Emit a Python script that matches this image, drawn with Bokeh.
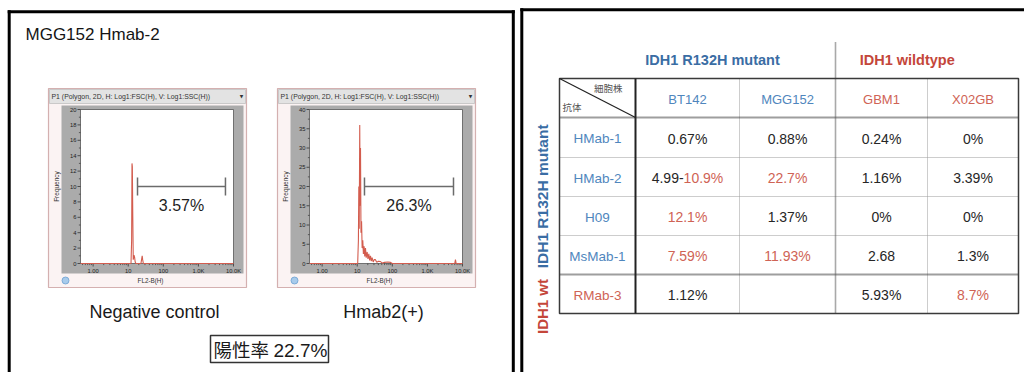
import math
from bokeh.plotting import figure
from bokeh.models import Range1d, LogScale
from bokeh.core.properties import value
from bokeh.embed import file_html
from bokeh.resources import INLINE

# ---------------- data ----------------
panel_title = "MGG152 Hmab-2"
sample_labels = ["Negative control", "Hmab2(+)"]
window_title = "P1 (Polygon, 2D, H: Log1:FSC(H), V: Log1:SSC(H))"
x_axis_label = "FL2-B(H)"
y_axis_label = "Frequency"
x_tick_values = [1, 10, 100, 1000, 10000]
x_tick_labels = ["1.00", "10", "100", "1.0K", "10.0K"]

neg_fl2 = [0.44, 12.0, 12.5, 12.8, 13.1, 13.5, 13.9, 14.6, 15.2, 15.8, 16.5,
           23.0, 24.2, 25.0, 25.8, 27.0, 10000]
neg_freq = [0, 0, 3, 13, 12.6, 6, 0.5, 1.1, 0.8, 0.2, 0,
            0, 0.6, 1.0, 0.5, 0, 0]
neg_y_ticks = [0, 2, 4, 6, 8, 10, 12, 14, 16, 18, 20]
neg_gate = [18.4, 5900]
neg_gate_level = 10
neg_percent = "3.57%"

pos_fl2 = [0.44, 10.3, 10.8, 11.1, 11.4, 11.8, 12.1, 12.4, 12.8, 13.3, 13.8,
           14.4, 15.0, 15.7, 16.4, 17.2, 18.0, 19.2, 20.2, 21.4, 22.6, 23.9,
           25.2, 26.6, 28.5, 30.5, 33.0, 36.0, 40.0, 46.0, 52.0, 60.0, 75.0,
           89.0, 100.0, 6000, 6300, 6600, 10000]
pos_freq = [0, 0, 6, 20, 9, 36, 15, 30, 8, 11, 4,
            6, 2.5, 4.5, 1.8, 4, 1.5, 3, 1.2, 2.5, 0.8, 2,
            0.6, 1.5, 0.4, 1.0, 1.0, 0.3, 0.6, 0.5, 0.1, 0.3, 0.4,
            0.3, 0, 0, 1, 0, 0]
pos_y_ticks = [0, 5, 10, 15, 20, 25, 30, 35, 40]
pos_gate = [16.1, 5540]
pos_gate_level = 20
pos_percent = "26.3%"

positive_rate_label = "陽性率"
positive_rate_value = "22.7%"

group_mutant = "IDH1 R132H mutant"
group_wildtype = "IDH1 wildtype"
group_wt_short = "IDH1 wt"
corner_top = "細胞株"
corner_bottom = "抗体"
cell_lines = ["BT142", "MGG152", "GBM1", "X02GB"]
cell_line_group = ["mut", "mut", "wt", "wt"]
antibodies = ["HMab-1", "HMab-2", "H09", "MsMab-1", "RMab-3"]
antibody_group = ["mut", "mut", "mut", "mut", "wt"]
cell_values = [
    ["0.67%", "0.88%", "0.24%", "0%"],
    ["4.99-10.9%", "22.7%", "1.16%", "3.39%"],
    ["12.1%", "1.37%", "0%", "0%"],
    ["7.59%", "11.93%", "2.68", "1.3%"],
    ["1.12%", "", "5.93%", "8.7%"],
]
# 0 = normal, 1 = highlighted, 2 = upper end of range highlighted
cell_highlight = [
    [0, 0, 0, 0],
    [2, 1, 0, 0],
    [1, 0, 0, 0],
    [1, 1, 0, 0],
    [0, 0, 0, 1],
]

# ---------------- canvas ----------------
X0, Y0, W, H = 0, 0, 1024, 372
p = figure(width=W, height=H, x_range=Range1d(X0, X0 + W), y_range=Range1d(Y0 + H, Y0),
           output_backend="svg", toolbar_location=None, min_border=0, title=None,
           x_axis_location=None, y_axis_location=None, outline_line_color=None,
           background_fill_color="white", border_fill_color="white")
p.xgrid.visible = False
p.ygrid.visible = False

BLUE_H = "#3a6da4"
BLUE = "#4f86bd"
RED_H = "#c4463a"
RED = "#cf6355"
DARK = "#262626"


def T(x, y, s, size, color=DARK, align="left", baseline="middle", font="Liberation Sans",
      style="normal", angle=0.0, xo=0, yo=0, **kw):
    xs = list(x) if isinstance(x, (list, tuple)) else [x]
    ys = list(y) if isinstance(y, (list, tuple)) else [y]
    ss = list(s) if isinstance(s, (list, tuple)) else [s]
    p.text(x=xs, y=ys, text=ss, text_font=value(font), text_font_size=f"{size}px",
           text_color=color, text_align=align, text_baseline=baseline,
           text_font_style=style, angle=angle, x_offset=xo, y_offset=yo, **kw)


# ---------------- panel borders ----------------
p.segment(x0=[8.7, 7.2, 512.8, 521.3, 519.8], y0=[9.8, 11.3, 9.8, 7.8, 9.3],
          x1=[8.7, 514.3, 512.8, 521.3, 1024], y1=[372, 11.3, 372, 372, 9.3],
          line_color="black", line_width=3)

# ---------------- left panel ----------------
T(25, 33.5, panel_title, 17, color="#151515")

L0, L1 = -0.36, 4.0
WIN_W = 198
PLOT_T, PLOT_B = 109, 263
hists = [
    dict(key="neg", wx=48, fl2=neg_fl2, freq=neg_freq, yt=neg_y_ticks, gate=neg_gate,
         level=neg_gate_level, pct=neg_percent, label=sample_labels[0]),
    dict(key="pos", wx=277, fl2=pos_fl2, freq=pos_freq, yt=pos_y_ticks, gate=pos_gate,
         level=pos_gate_level, pct=pos_percent, label=sample_labels[1]),
]
ex_x, ex_xs, ex_y = {}, {}, {}
for h in hists:
    pl, pr = h["wx"] + 32, h["wx"] + 185
    dpp = (L1 - L0) / (pr - pl)
    ymax = h["yt"][-1]
    cpp = ymax / (PLOT_B - PLOT_T)
    ex_x[h["key"]] = Range1d(10 ** (L0 - (pl - X0) * dpp), 10 ** (L1 + (X0 + W - pr) * dpp))
    ex_xs[h["key"]] = LogScale()
    ex_y[h["key"]] = Range1d(-(Y0 + H - PLOT_B) * cpp, ymax + (PLOT_T - Y0) * cpp)
    h.update(pl=pl, pr=pr, dpp=dpp, cpp=cpp)
p.extra_x_ranges = ex_x
p.extra_x_scales = ex_xs
p.extra_y_ranges = ex_y

for h in hists:
    k, wx, pl, pr, dpp, cpp = h["key"], h["wx"], h["pl"], h["pr"], h["dpp"], h["cpp"]
    kw = dict(x_range_name=k, y_range_name=k)
    # window chrome
    p.quad(left=[wx], right=[wx + WIN_W], top=[88], bottom=[287],
           fill_color="#fbf3f3", line_color="#d4b0b0", line_width=1.2)
    p.quad(left=[wx + 1], right=[wx + WIN_W - 1], top=[89], bottom=[103],
           fill_color="#e3e3e3", line_color="#c0c0c0", line_width=0.8)
    T(wx + 3, 96, window_title, 6.9, color="#333333")
    T(wx + WIN_W - 5, 96, "▼", 4.5, color="#333333", align="center", font="DejaVu Sans")
    p.quad(left=[wx + 13], right=[wx + 195], top=[105], bottom=[273],
           fill_color="#ababab", line_color=None)
    p.quad(left=[pl], right=[pr], top=[PLOT_T], bottom=[PLOT_B],
           fill_color="white", line_color="#555555", line_width=0.8)
    T(wx + 8, (PLOT_T + PLOT_B) / 2, y_axis_label, 6.5, color="#333333", align="center",
      angle=math.pi / 2)
    p.scatter(x=[wx + 17], y=[280], size=7, marker="circle", fill_color="#a8cbeb",
              line_color="#6c9fd2", line_width=0.8)
    T(wx + 102, 280, x_axis_label, 6.3, color="#333333", align="center")

    # axes ticks
    xmin = 10 ** L0
    maj = 3.0
    mino = 1.6
    nx = len(x_tick_values)
    p.segment(x0=x_tick_values, y0=[0] * nx, x1=x_tick_values, y1=[-maj * cpp] * nx,
              line_color="#333333", line_width=0.8, **kw)
    minor_x = [m * 10 ** d for d in range(-1, 4) for m in range(2, 10)
               if 10 ** L0 < m * 10 ** d < 10 ** L1]
    p.segment(x0=minor_x, y0=[0] * len(minor_x), x1=minor_x, y1=[-mino * cpp] * len(minor_x),
              line_color="#333333", line_width=0.7, **kw)
    T(x_tick_values, [0] * nx, x_tick_labels, 5.8, color="#222222", align="center",
      yo=7, **kw)
    yt = h["yt"]
    ny = len(yt)
    p.segment(x0=[xmin] * ny, y0=yt, x1=[10 ** (L0 - maj * dpp)] * ny, y1=yt,
              line_color="#333333", line_width=0.8, **kw)
    minor_y = [(yt[i] + yt[i + 1]) / 2 for i in range(ny - 1)]
    p.segment(x0=[xmin] * len(minor_y), y0=minor_y, x1=[10 ** (L0 - mino * dpp)] * len(minor_y),
              y1=minor_y, line_color="#333333", line_width=0.7, **kw)
    T([xmin] * ny, yt, [str(v) for v in yt], 5.8, color="#222222", align="right", xo=-4, **kw)

    # histogram
    p.line(h["fl2"], h["freq"], line_color="#d35c4e", line_width=1.1, **kw)

    # gate
    g0, g1 = h["gate"]
    lv = h["level"]
    cap = 9 * cpp
    p.segment(x0=[g0, g0, g1], y0=[lv, lv - cap, lv - cap], x1=[g1, g0, g1],
              y1=[lv, lv + cap, lv + cap], line_color="#6b6b6b", line_width=1.5, **kw)
    T(math.sqrt(g0 * g1), lv, h["pct"], 16, color="#1e1e1e", align="center", yo=19, **kw)

    # sample label
    T(wx + 106, 311.3, h["label"], 18, color="#1a1a1a", align="center")

# positive rate box
p.quad(left=[210], right=[328], top=[335], bottom=[362], fill_color=None,
       line_color="#333333", line_width=1.5)
T(213, 348, positive_rate_label, 18.5, color="#1a1a1a", font="Noto Sans CJK JP")
T(273, 349.5, positive_rate_value, 19, color="#1a1a1a")

# ---------------- right panel: table ----------------
col_edges = [559, 635, 739, 835, 927, 1018]
row_edges = [78, 117, 157, 196, 235, 274, 313]
cx = [(col_edges[i] + col_edges[i + 1]) / 2 for i in range(len(col_edges) - 1)]
ry = [(row_edges[i] + row_edges[i + 1]) / 2 for i in range(len(row_edges) - 1)]
TL, TR, TT, TB = col_edges[0], col_edges[-1], row_edges[0], row_edges[-1]

# light dotted lines
light_h = row_edges[2:5]
p.segment(x0=[TL] * len(light_h), y0=light_h, x1=[TR] * len(light_h), y1=light_h,
          line_color="#9a9a9a", line_width=1, line_dash="1 1")
p.segment(x0=[col_edges[2], col_edges[4]], y0=[TT, TT], x1=[col_edges[2], col_edges[4]],
          y1=[TB, TB], line_color="#9a9a9a", line_width=1, line_dash="1 1")
# heavy dotted lines
p.segment(x0=[TL, TL], y0=[row_edges[1], row_edges[5]], x1=[TR, TR],
          y1=[row_edges[1], row_edges[5]], line_color="#3c3c3c", line_width=2, line_dash="1 1")
p.segment(x0=[col_edges[3]], y0=[42], x1=[col_edges[3]], y1=[TB],
          line_color="#555555", line_width=1.6, line_dash="1 1")
# solid lines
p.quad(left=[TL], right=[TR], top=[TT], bottom=[TB], fill_color=None,
       line_color="#3a3a3a", line_width=1.5)
p.segment(x0=[col_edges[1], TL], y0=[TT, TT], x1=[col_edges[1], col_edges[1]],
          y1=[TB, row_edges[1]], line_color="#222222", line_width=[2, 1.2])

# group headers
mut_cols = [cx[i + 1] for i, g in enumerate(cell_line_group) if g == "mut"]
wt_cols = [cx[i + 1] for i, g in enumerate(cell_line_group) if g == "wt"]
T(sum(mut_cols) / len(mut_cols) - 25, 59.5, group_mutant, 14.5, color=BLUE_H, align="center",
  style="bold")
T(sum(wt_cols) / len(wt_cols) - 20, 59.5, group_wildtype, 14.5, color=RED_H, align="center",
  style="bold")

# corner
T(col_edges[1] - 13, 87, corner_top, 9.5, color="#555555", align="right",
  font="Noto Sans CJK JP")
T(TL + 3, 106, corner_bottom, 9.5, color="#555555", font="Noto Sans CJK JP")

# column headers
T(cx[1:], [ry[0] + 1] * len(cell_lines), cell_lines, 13,
  color=[BLUE if g == "mut" else RED for g in cell_line_group], align="center")

# row labels
T([cx[0]] * len(antibodies), [y + 1 for y in ry[1:]], antibodies, 13.5,
  color=[BLUE if g == "mut" else RED for g in antibody_group], align="center")

# side group labels
mut_rows = [ry[i + 1] for i, g in enumerate(antibody_group) if g == "mut"]
T(542, sum(mut_rows) / len(mut_rows), group_mutant, 15.5, color=BLUE_H, align="center",
  style="bold", angle=math.pi / 2)
T(542, row_edges[-1] - 7, group_wt_short, 15, color=RED_H, align="center",
  style="bold", angle=math.pi / 2)

# values
CW = {".": 0.278, "-": 0.333, "%": 0.889}


def tw(s, size):
    return sum(CW.get(ch, 0.556) for ch in s) * size


VS = 14
nx_, ny_, nt_ = [], [], []
cols_ = []
for r, row in enumerate(cell_values):
    for c, s in enumerate(row):
        if not s:
            continue
        x, y = cx[c + 1], ry[r + 1] + 1
        hl = cell_highlight[r][c]
        if hl == 2:
            a, b = s.split("-", 1)
            a += "-"
            xs = x - tw(s, VS) / 2 + tw(a, VS)
            T(xs, y, a, VS, color=DARK, align="right")
            T(xs, y, b, VS, color=RED, align="left")
        else:
            nx_.append(x)
            ny_.append(y)
            nt_.append(s)
            cols_.append(RED if hl == 1 else DARK)
T(nx_, ny_, nt_, VS, color=cols_, align="center")

open("out.html", "w").write(file_html(p, INLINE))
